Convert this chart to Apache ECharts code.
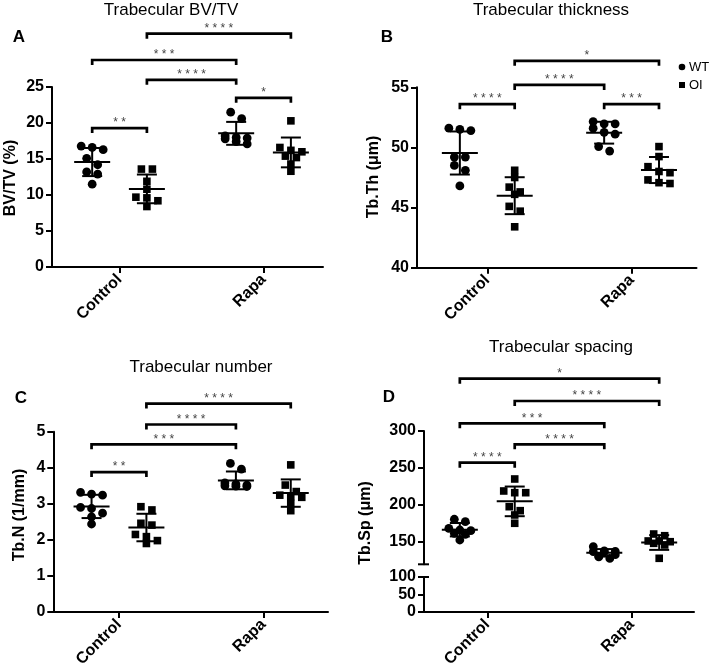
<!DOCTYPE html>
<html><head><meta charset="utf-8">
<script src="https://cdn.jsdelivr.net/npm/echarts@6/dist/echarts.min.js"></script>
<style>html,body{margin:0;padding:0;background:#fff}#c{width:709px;height:672px}</style>
</head><body><div id="c"></div>
<script>
// ---------- data ----------
const categories = ['Control', 'Rapa'];
const genotypes = ['WT', 'OI'];

// Trabecular BV/TV (%)
const bvtvControlWT = [16.8, 16.6, 16.3, 15.1, 14.2, 13.2, 12.9, 11.5];
const bvtvControlOI = [13.6, 13.6, 11.9, 10.8, 9.7, 9.6, 9.2, 8.4];
const bvtvRapaWT = [21.5, 20.6, 18.2, 18.0, 17.9, 17.8, 17.4, 17.1];
const bvtvRapaOI = [20.3, 16.6, 16.2, 16.0, 15.4, 15.2, 14.3, 13.3];
// Trabecular thickness Tb.Th (µm)
const tbthControlWT = [51.6, 51.5, 51.4, 49.2, 49.2, 48.5, 48.1, 46.8];
const tbthControlOI = [48.1, 47.5, 46.7, 46.3, 46.1, 45.1, 44.7, 43.4];
const tbthRapaWT = [52.15, 51.96, 51.96, 51.6, 51.26, 51.1, 50.07, 49.7];
const tbthRapaOI = [50.07, 49.24, 48.4, 48.0, 47.9, 47.3, 47.07, 47.0];
// Trabecular number Tb.N (1/mm)
const tbnControlWT = [3.32, 3.27, 3.24, 2.90, 2.87, 2.74, 2.64, 2.44];
const tbnControlOI = [2.92, 2.83, 2.46, 2.41, 2.15, 2.09, 1.98, 1.90];
const tbnRapaWT = [4.12, 3.96, 3.58, 3.55, 3.52, 3.50, 3.49, 3.48];
const tbnRapaOI = [4.08, 3.52, 3.34, 3.24, 3.20, 3.18, 3.01, 2.81];
// Trabecular spacing Tb.Sp (µm)
const tbspControlWT = [180.8, 177.5, 168.6, 166.3, 165.4, 161.9, 160.5, 152.8];
const tbspControlOI = [235.2, 219.0, 216.7, 216.7, 197.8, 192.4, 186.6, 175.4];
const tbspRapaWT = [144, 138, 137.5, 137, 136.5, 133, 130, 128];
const tbspRapaOI = [160.9, 158.6, 151.5, 151.5, 150.5, 148.3, 146.1, 128.1];

// significance brackets: [fromGroup, toGroup, level (axis units), label]
// groups: 0 Control WT, 1 Control OI, 2 Rapa WT, 3 Rapa OI
const bvtvSig = [[0, 1, 19.3, '**'], [2, 3, 23.5, '*'], [1, 2, 26, '****'], [0, 2, 28.75, '***'], [1, 3, 32.4, '****']];
const tbthSig = [[0, 1, 53.6, '****'], [2, 3, 53.6, '***'], [1, 2, 55.2, '****'], [1, 3, 57.2, '*']];
const tbnSig = [[0, 1, 3.88, '**'], [0, 2, 4.65, '***'], [1, 2, 5.2, '****'], [1, 3, 5.78, '****']];
const tbspSig = [[0, 1, 257.2, '****'], [1, 2, 282, '****'], [0, 2, 310.4, '***'], [1, 3, 340.5, '****'], [0, 3, 370.6, '*']];

const bvtvTicks = [0, 5, 10, 15, 20, 25];
const tbthTicks = [40, 45, 50, 55];
const tbnTicks = [0, 1, 2, 3, 4, 5];
const tbspUpperTicks = [150, 200, 250, 300];
const tbspLowerTicks = [0, 50, 100];
const tbspBreak = [100, 120];

// ---------- helpers ----------
const FONT = '"Liberation Sans", Arial, Helvetica, sans-serif';
const GROUP_OFF = 0.19;
function groupX(g) { return Math.floor(g / 2) + (g % 2 === 0 ? -GROUP_OFF : GROUP_OFF); }

function swarm(ys) {
  const ROW_H = 6.5, SPREAD = 11, MAX_ROW = 3;
  const idx = ys.map((y, i) => i).sort((a, b) => ys[a] - ys[b]);
  const off = new Array(ys.length).fill(0);
  let row = [];
  const flush = () => { row.forEach((i, k) => { off[i] = (k - (row.length - 1) / 2) * SPREAD; }); row = []; };
  idx.forEach(i => {
    if (row.length && (ys[i] - ys[row[0]] > ROW_H || row.length >= MAX_ROW)) flush();
    row.push(i);
  });
  flush();
  return off;
}

function pointsSeries(name, axisIdx, groups, isSquare) {
  return {
    type: 'custom', name: name, xAxisIndex: axisIdx, yAxisIndex: axisIdx,
    coordinateSystem: 'cartesian2d', clip: false, silent: true,
    itemStyle: { color: '#000' },
    data: groups.map(g => [g.x, g.values[0]]),
    renderItem: function (params, api) {
      const g = groups[params.dataIndex];
      const vals = g.values, n = vals.length;
      const mean = vals.reduce((a, b) => a + b, 0) / n;
      const sd = Math.sqrt(vals.reduce((a, b) => a + (b - mean) * (b - mean), 0) / (n - 1));
      const c = api.coord([g.x, mean]);
      const t = api.coord([g.x, mean + sd]);
      const b = api.coord([g.x, mean - sd]);
      const pts = vals.map(v => api.coord([g.x, v]));
      const off = swarm(pts.map(p => p[1]));
      const ch = [];
      pts.forEach((p, i) => {
        const x = p[0] + off[i], y = p[1];
        if (isSquare) ch.push({ type: 'rect', shape: { x: x - 3.8, y: y - 3.8, width: 7.6, height: 7.6 }, style: { fill: '#000' } });
        else ch.push({ type: 'circle', shape: { cx: x, cy: y, r: 4.4 }, style: { fill: '#000' } });
      });
      const ls = { stroke: '#000', lineWidth: 2 };
      ch.push({ type: 'line', shape: { x1: c[0], y1: t[1], x2: c[0], y2: b[1] }, style: ls });
      ch.push({ type: 'line', shape: { x1: c[0] - 10, y1: t[1], x2: c[0] + 10, y2: t[1] }, style: ls });
      ch.push({ type: 'line', shape: { x1: c[0] - 10, y1: b[1], x2: c[0] + 10, y2: b[1] }, style: ls });
      ch.push({ type: 'line', shape: { x1: c[0] - 18, y1: c[1], x2: c[0] + 18, y2: c[1] }, style: ls });
      return { type: 'group', children: ch };
    }
  };
}

function bracketSeries(axisIdx, list) {
  return {
    type: 'custom', xAxisIndex: axisIdx, yAxisIndex: axisIdx, coordinateSystem: 'cartesian2d',
    clip: false, silent: true,
    data: list.map(b => [groupX(b[0]), b[2]]),
    renderItem: function (params, api) {
      const b = list[params.dataIndex];
      const p1 = api.coord([groupX(b[0]), b[2]]);
      const p2 = api.coord([groupX(b[1]), b[2]]);
      return {
        type: 'group', children: [
          { type: 'polyline', shape: { points: [[p1[0], p1[1] + 5], [p1[0], p1[1]], [p2[0], p2[1]], [p2[0], p2[1] + 5]] },
            style: { stroke: '#000', lineWidth: 2.7, fill: null } },
          { type: 'text', x: (p1[0] + p2[0]) / 2, y: p1[1] + 1,
            style: { text: b[3].split('').join(' '), align: 'center', verticalAlign: 'bottom', font: '12px ' + FONT, fill: '#444' } }
        ]
      };
    }
  };
}

function breakCapSeries(axisIdx, xMin, value) {
  return {
    type: 'custom', xAxisIndex: axisIdx, yAxisIndex: axisIdx, coordinateSystem: 'cartesian2d',
    clip: false, silent: true, data: [[xMin, value]],
    renderItem: function (params, api) {
      const p = api.coord([xMin, value]);
      return { type: 'line', shape: { x1: p[0] - 6, y1: p[1], x2: p[0] + 5, y2: p[1] }, style: { stroke: '#000', lineWidth: 2 } };
    }
  };
}

function mk(ctrlWT, ctrlOI, rapaWT, rapaOI) {
  return {
    WT: [{ x: groupX(0), values: ctrlWT }, { x: groupX(2), values: rapaWT }],
    OI: [{ x: groupX(1), values: ctrlOI }, { x: groupX(3), values: rapaOI }]
  };
}
const panels = [
  mk(bvtvControlWT, bvtvControlOI, bvtvRapaWT, bvtvRapaOI),
  mk(tbthControlWT, tbthControlOI, tbthRapaWT, tbthRapaOI),
  mk(tbnControlWT, tbnControlOI, tbnRapaWT, tbnRapaOI),
  mk(tbspControlWT, tbspControlOI, tbspRapaWT, tbspRapaOI)
];

// ---------- axes ----------
const labelFont = { fontFamily: FONT, fontWeight: 'bold', fontSize: 16, color: '#000' };
const axisLine = { show: true, onZero: false, lineStyle: { color: '#000', width: 2 } };
const tick = { show: true, length: 6, lineStyle: { color: '#000', width: 2 } };

function xAxis(gridIndex, min, max, showLabels, show) {
  return {
    type: 'value', gridIndex, min, max, show: show !== false,
    axisLine: axisLine, splitLine: { show: false },
    axisTick: Object.assign({}, tick, { customValues: [0, 1] }),
    axisLabel: Object.assign({}, labelFont, { show: showLabels, customValues: [0, 1], rotate: 45, margin: 10,
      formatter: v => categories[Math.round(v)] })
  };
}
function yAxis(gridIndex, ticks, extra) {
  return Object.assign({
    type: 'value', gridIndex, min: ticks[0], max: ticks[ticks.length - 1],
    axisLine: axisLine, splitLine: { show: false },
    axisTick: Object.assign({}, tick, { customValues: ticks }),
    axisLabel: Object.assign({}, labelFont, { customValues: ticks, margin: 8 })
  }, extra || {});
}

const series = [];
const squareFlag = { WT: false, OI: true };
[[0, 0], [1, 1], [2, 2], [3, 3]].forEach(([p, ax]) => {
  genotypes.forEach(gt => series.push(pointsSeries(gt, ax, panels[p][gt], squareFlag[gt])));
});
series.push(bracketSeries(0, bvtvSig));
series.push(bracketSeries(1, tbthSig));
series.push(bracketSeries(2, tbnSig));
series.push(bracketSeries(3, tbspSig));
series.push(breakCapSeries(3, -0.438, tbspBreak[1]));
series.push(breakCapSeries(4, -0.438, tbspBreak[0]));
series.push({ type: 'scatter', xAxisIndex: 4, yAxisIndex: 4, data: [], silent: true });

const titleFont = '17px ' + FONT;
const letterFont = 'bold 17px ' + FONT;
const nameFont = 'bold 16px ' + FONT;
function txt(text, x, y, font, rot) {
  return { type: 'text', x, y, rotation: rot || 0, silent: true,
    style: { text, font, fill: '#000', align: 'center', verticalAlign: 'middle' } };
}

const option = {
  animation: false,
  grid: [
    { left: 52, top: 87, width: 271, height: 180, outerBoundsMode: 'none', containLabel: false },
    { left: 417, top: 87.3, width: 279.5, height: 180.4, outerBoundsMode: 'none', containLabel: false },
    { left: 53.3, top: 431.7, width: 274.7, height: 180.3, outerBoundsMode: 'none', containLabel: false },
    { left: 424, top: 431, width: 270, height: 133.3, outerBoundsMode: 'none', containLabel: false },
    { left: 424, top: 577, width: 270, height: 35, outerBoundsMode: 'none', containLabel: false }
  ],
  xAxis: [
    xAxis(0, -0.469, 1.413, true),
    xAxis(1, -0.487, 1.450, true),
    xAxis(2, -0.455, 1.448, true),
    xAxis(3, -0.438, 1.431, false, false),
    xAxis(4, -0.438, 1.431, true)
  ],
  yAxis: [
    yAxis(0, bvtvTicks),
    yAxis(1, tbthTicks),
    yAxis(2, tbnTicks),
    yAxis(3, tbspUpperTicks, { min: tbspBreak[1], max: 300 }),
    yAxis(4, tbspLowerTicks)
  ],
  series: series,
  graphic: [
    txt('Trabecular BV/TV', 171, 10, titleFont),
    txt('Trabecular thickness', 551, 10, titleFont),
    txt('Trabecular number', 201, 367, titleFont),
    txt('Trabecular spacing', 561, 347, titleFont),
    txt('A', 19, 37, letterFont),
    txt('B', 387, 37, letterFont),
    txt('C', 21, 398, letterFont),
    txt('D', 389, 397, letterFont),
    txt('BV/TV (%)', 11, 178, nameFont, Math.PI / 2),
    txt('Tb.Th (\u03bcm)', 374, 177, nameFont, Math.PI / 2),
    txt('Tb.N (1/mm)', 20, 515, nameFont, Math.PI / 2),
    txt('Tb.Sp (\u03bcm)', 366, 523, nameFont, Math.PI / 2),
    { type: 'circle', silent: true, shape: { cx: 682, cy: 67, r: 3.3 }, style: { fill: '#000' } },
    { type: 'rect', silent: true, shape: { x: 679, y: 82, width: 6, height: 6 }, style: { fill: '#000' } },
    { type: 'text', x: 689, y: 67, silent: true, style: { text: 'WT', font: '13px ' + FONT, fill: '#000', align: 'left', verticalAlign: 'middle' } },
    { type: 'text', x: 689, y: 85, silent: true, style: { text: 'OI', font: '13px ' + FONT, fill: '#000', align: 'left', verticalAlign: 'middle' } }
  ]
};

const chart = echarts.init(document.getElementById('c'));
chart.setOption(option);
</script>
</body></html>
